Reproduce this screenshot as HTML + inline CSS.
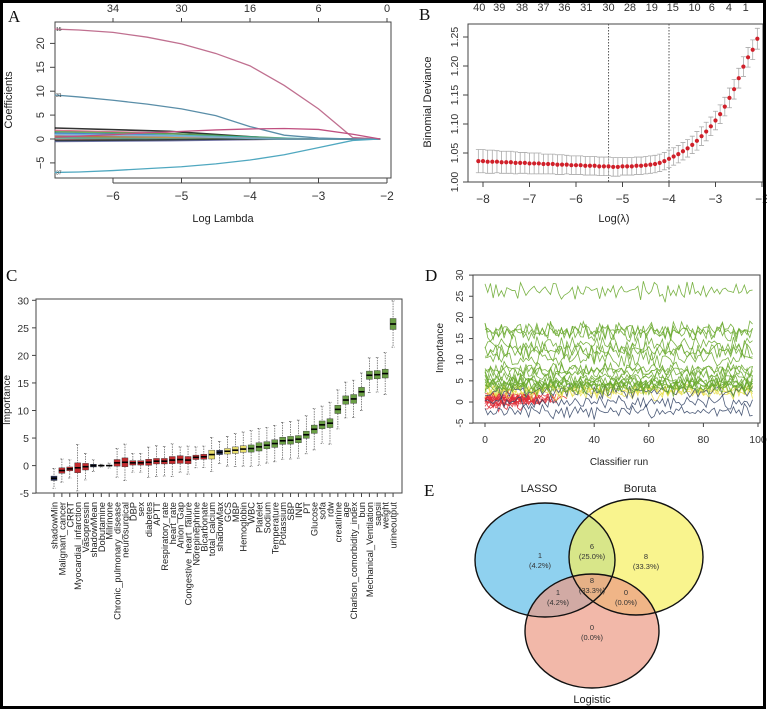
<!DOCTYPE html>
<html><head><meta charset="utf-8">
<style>
html,body{margin:0;padding:0;background:#fff;}
svg{display:block;font-family:"Liberation Sans",sans-serif;}
.pl{font-family:"Liberation Serif",serif;font-size:17px;fill:#111;}
</style></head>
<body>
<svg id="fig" width="767" height="710" viewBox="0 0 767 710" xmlns="http://www.w3.org/2000/svg">
<rect x="0" y="0" width="767" height="710" fill="#fff"/>
</svg>
<script>
// ---------- Panel A data ----------
const aLambda = [-6.85,-6.5,-6,-5.5,-5,-4.5,-4,-3.5,-3,-2.5,-2.1];
const aCoefVar15 = [23,22.8,22.3,21.3,19.9,17.9,15.3,11.2,6.3,0.3,0];
const aCoefVar31 = [9.2,8.8,8.1,7.3,6.3,4.9,2.6,0.8,0.2,0,0];
const aCoefVar37 = [-7,-6.9,-6.6,-6.2,-5.8,-5.2,-4.4,-3.3,-1.8,-0.3,0];
const aCoefPink = [0.4,0.6,0.9,1.3,1.6,1.9,2.1,2.2,2.0,1.0,0];
const aSmallStart = [2.3,1.8,1.5,1.2,1.0,0.8,0.5,0.3,-0.2,-0.4,-0.5,0.6,0.2,-0.3,0.9];
const aSmallZero = [-3.5,-3.8,-3.2,-4.0,-3.0,-3.5,-4.5,-5.0,-3.0,-4.0,-3.5,-3.2,-5.5,-4.2,-3.6];
const aTopLabels = ["34","30","16","6","0"];
const aTopPos = [-6,-5,-4,-3,-2];
// ---------- Panel B data ----------
const bLambda = [];
for (let k=0;k<61;k++) bLambda.push(+(-8.1+k*0.1).toFixed(2));
const bDeviance = [1.036,1.036,1.035,1.035,1.035,1.034,1.034,1.034,1.033,1.033,1.033,1.032,1.032,1.032,1.031,1.031,1.031,1.030,1.030,1.030,1.029,1.029,1.029,1.028,1.028,1.028,1.027,1.027,1.027,
1.026,1.026,1.027,1.027,1.027,1.028,1.028,1.029,1.030,1.031,1.033,1.036,1.040,
1.044,1.048,1.053,1.058,1.064,1.071,1.079,1.087,1.096,1.106,1.117,1.130,1.145,1.160,1.179,1.199,1.215,1.228,1.247];
const bSE = [0.020,0.020,0.020,0.020,0.019,0.019,0.019,0.019,0.019,0.018,0.018,0.018,0.018,0.018,0.017,0.017,0.017,0.017,0.017,0.016,0.016,0.016,0.016,0.016,0.016,0.016,0.016,0.016,0.016,
0.016,0.016,0.015,0.015,0.015,0.015,0.015,0.015,0.015,0.015,0.015,0.015,0.015,
0.015,0.015,0.015,0.015,0.015,0.016,0.016,0.016,0.016,0.016,0.016,0.016,0.017,0.017,0.017,0.017,0.017,0.017,0.018];
const bTopLabels = ["40","39","38","37","36","31","30","28","19","15","10","6","4","1"];
const bTopX = [-8.08,-7.65,-7.16,-6.7,-6.25,-5.78,-5.3,-4.84,-4.37,-3.92,-3.45,-3.08,-2.71,-2.35];
const bLambdaMin = -5.3, bLambda1se = -4.0;
// ---------- Panel C data ----------
const cFeatures = ["shadowMin","Malignant_cancer","CRRT","Myocardial_infarction","Vasopressin","shadowMean","Dobutamine","Milrinone","Chronic_pulmonary_disease","neurosurgical","DBP","sex","diabetes","APTT","Respiratory_rate","heart_rate","Anion_Gap","Congestive_heart_failure","Norepinephrine","Bicarbonate","total_calcium","shadowMax","GCS","MBP","Hemoglobin","WBC","Platelet","Sodium","Temperature","Potassium","SBP","INR","PT","Glucose","sofa","rdw","creatinine","age","Charlson_comorbidity_index","bun","Mechanical_Ventilation","sapsii","weight","urineoutput"];
const cMedian = [-2.3,-0.9,-0.6,-0.4,-0.2,0,0,0,0.5,0.6,0.5,0.5,0.6,0.8,0.8,1.0,1.1,1.0,1.5,1.6,2.0,2.4,2.6,2.8,3.0,3.1,3.4,3.7,4.0,4.5,4.6,4.8,5.6,6.6,7.4,7.7,10.2,11.9,12.1,13.4,16.4,16.5,16.7,25.7];
const cIQR = [0.8,1.0,0.7,1.8,1.2,0.5,0.1,0.1,1.2,1.6,0.8,0.8,1.1,1.0,1.0,1.3,1.4,1.3,0.8,0.9,1.6,0.8,1.0,1.2,1.2,1.3,1.5,1.3,1.4,1.3,1.4,1.3,1.3,1.5,1.4,1.6,1.5,1.5,1.6,1.6,1.5,1.5,1.6,2.0];
const cWhisk = [1.4,1.6,1.3,3.3,1.8,0.8,0.2,0.4,2.0,2.5,1.3,1.3,2.2,2.3,2.2,2.3,1.6,1.9,1.5,1.5,2.3,1.6,2.2,2.4,2.5,2.6,2.6,2.6,2.6,2.7,2.7,2.8,2.8,3.0,2.7,3.0,2.8,2.5,2.6,2.6,2.4,2.4,3.0,3.2];
const cStatus = ["S","R","R","R","R","S","R","R","R","R","R","R","R","R","R","R","R","R","R","R","T","S","T","T","T","C","C","C","C","C","C","C","C","C","C","C","C","C","C","C","C","C","C","C"];
// ---------- Panel D data ----------
const dRunMax = 98;
const dRejectedEnd = [12,14,18,20,22,24,26,17,19,21,15,23,25,28,30,16,20];
const dNoise = [0.6,-0.9,1.3,-0.4,0.2,-1.2,0.9,0.4,-0.7,1.5,-0.3,-1.0,0.8,0.1,-0.6,1.1,-1.4,0.5,0.3,-0.8,1.2,-0.2,0.7,-1.1,0.0,1.0,-0.5,0.4,-0.9,0.6,1.4,-0.6,0.2,-1.3,0.9,-0.1,0.5];
// ---------- Panel E data ----------
const eSets = ["LASSO","Boruta","Logistic"];
const eRegionCounts = ["1","6","8","8","1","0","0"];
const eRegionPct = ["(4.2%)","(25.0%)","(33.3%)","(33.3%)","(4.2%)","(0.0%)","(0.0%)"];

const NS="http://www.w3.org/2000/svg";
const svg=document.getElementById('fig');
function mk(tag,attrs,parent){const e=document.createElementNS(NS,tag);for(const k in attrs)e.setAttribute(k,attrs[k]);(parent||svg).appendChild(e);return e;}
function txt(s,x,y,size,anchor,rot,parent,fill){const t=mk('text',{x:x,y:y,'font-size':size,'text-anchor':anchor||'middle',fill:fill||'#222'},parent);if(rot)t.setAttribute('transform','rotate('+rot+' '+x+' '+y+')');t.textContent=s;return t;}

// ================= Panel A =================
const gA=mk('g',{});


const xA=v=>113+(v+6)*68.5, yA=v=>139-v*4.78;
let t=txt('A',8,22,17,'start',0,gA,'#111');t.setAttribute('class','pl');


let r=mk('rect',{x:55,y:22,width:336,height:156,fill:'none',stroke:'#444','stroke-width':1},gA);


const aPal=['#000','#d05070','#40a040','#3050c0','#40c0d0','#c040c0','#c0b040','#888','#a04040','#208080','#6060a0','#b07030','#50a080','#303030','#80c0e0'];
aSmallStart.forEach((s,i)=>{
  const z=aSmallZero[i];
  const pts=[[xA(-6.85),yA(s)],[xA((-6.85+z)/2),yA(s*0.7)],[xA(z),yA(0)],[xA(-2.1),yA(0)]];
  const p=mk('polyline',{points:pts.map(q=>q.join(',')).join(' '),fill:'none',stroke:aPal[i%aPal.length],'stroke-width':1.6,'stroke-opacity':0.8},gA);
  
  
});
[[aCoefVar15,'#c07090','coef-path-var15'],[aCoefVar31,'#5a8ea8','coef-path-var31'],[aCoefVar37,'#50a8c0','coef-path-var37'],[aCoefPink,'#c05080','coef-path-pink']].forEach(([arr,c,n])=>{
  const p=mk('polyline',{points:arr.map((v,i)=>xA(aLambda[i])+','+yA(v)).join(' '),fill:'none',stroke:c,'stroke-width':1.3},gA);
  
  
});
txt('15',56,yA(aCoefVar15[0])+2,5,'start',0,gA,'#333');
txt('31',56,yA(aCoefVar31[0])+2,5,'start',0,gA,'#333');
txt('37',56,yA(aCoefVar37[0])+2,5,'start',0,gA,'#333');
[-6,-5,-4,-3,-2].forEach(v=>{mk('line',{x1:xA(v),x2:xA(v),y1:178,y2:183,stroke:'#444'},gA);const l=txt('\u2212'+Math.abs(v),xA(v),200,12,'middle',0,gA,'#333');});
mk('line',{x1:xA(-6),x2:xA(-2),y1:183,y2:183,stroke:'#444'},gA);
[-5,0,5,10,15,20].forEach(v=>{mk('line',{x1:50,x2:55,y1:yA(v),y2:yA(v),stroke:'#444'},gA);const l=txt(v<0?'\u22125':String(v),44,yA(v),11,'middle',-90,gA,'#333');});
aTopLabels.forEach((s,i)=>{mk('line',{x1:xA(aTopPos[i]),x2:xA(aTopPos[i]),y1:18,y2:22,stroke:'#444'},gA);const l=txt(s,xA(aTopPos[i]),12,11,'middle',0,gA,'#333');});
t=txt('Coefficients',12,100,11,'middle',-90,gA,'#222');


t=txt('Log Lambda',223,222,11,'middle',0,gA,'#222');



// ================= Panel B =================
const gB=mk('g',{});


const xB=v=>483+(v+8)*46.5, yB=v=>182-(v-1)*580;
t=txt('B',419,20,17,'start',0,gB,'#111');t.setAttribute('class','pl');


r=mk('rect',{x:468,y:24,width:295,height:158,fill:'none',stroke:'#444'},gB);


[bLambdaMin,bLambda1se].forEach(v=>{const l=mk('line',{x1:xB(v),x2:xB(v),y1:24,y2:182,stroke:'#555','stroke-dasharray':'1.5,1.5'},gB);});
bDeviance.forEach((d,i)=>{
  const x=xB(bLambda[i]),se=bSE[i];
  const e=mk('path',{d:`M${x},${yB(d+se)}V${yB(d-se)}M${x-2.5},${yB(d+se)}h5M${x-2.5},${yB(d-se)}h5`,stroke:'#aaa','stroke-width':0.8,fill:'none'},gB);
  
  
});
bDeviance.forEach((d,i)=>{
  const c=mk('circle',{cx:xB(bLambda[i]),cy:yB(d),r:2.1,fill:'#d0202a'},gB);
  
  
});
[-8,-7,-6,-5,-4,-3,-2].forEach(v=>{mk('line',{x1:xB(v),x2:xB(v),y1:182,y2:187,stroke:'#444'},gB);const l=txt('\u2212'+Math.abs(v),xB(v),203,12,'middle',0,gB,'#333');});
[1.00,1.05,1.10,1.15,1.20,1.25].forEach(v=>{mk('line',{x1:463,x2:468,y1:yB(v),y2:yB(v),stroke:'#444'},gB);const l=txt(v.toFixed(2),458,yB(v),10.5,'middle',-90,gB,'#333');});
bTopLabels.forEach((s,i)=>{const l=txt(s,xB(bTopX[i]),11,11,'middle',0,gB,'#333');});
t=txt('Binomial Deviance',431,102,11,'middle',-90,gB,'#222');


t=txt('Log(\u03bb)',614,222,11,'middle',0,gB,'#222');



// ================= Panel C =================
const gC=mk('g',{});


const xC=i=>54+i*7.885, yC=v=>465.6-v*5.51;
const cFill={S:'#1e2a58',R:'#c42a2e',T:'#e6dc6a',C:'#6a9f45'};
t=txt('C',6,281,17,'start',0,gC,'#111');t.setAttribute('class','pl');


r=mk('rect',{x:36,y:299,width:366,height:194,fill:'none',stroke:'#444'},gC);


[-5,0,5,10,15,20,25,30].forEach(v=>{mk('line',{x1:32,x2:36,y1:yC(v),y2:yC(v),stroke:'#444'},gC);const l=txt(v<0?'-5':String(v),29,yC(v)+4,10.5,'end',0,gC,'#333');});
cMedian.forEach((m,i)=>{
  const x=xC(i),h=cIQR[i]/2,w=cWhisk[i];
  const wk=mk('path',{d:`M${x},${yC(m+h+w)}V${yC(m+h)}M${x},${yC(m-h)}V${yC(m-h-w)}M${x-1.5},${yC(m+h+w)}h3M${x-1.5},${yC(m-h-w)}h3`,stroke:'#555','stroke-width':0.7,'stroke-dasharray':'1.5,1',fill:'none'},gC);
  
  
  const b=mk('rect',{x:x-3,y:yC(m+h),width:6,height:Math.max(0.5,cIQR[i]*5.51),fill:cFill[cStatus[i]],stroke:'#333','stroke-width':0.4},gC);
  
  
  const md=mk('line',{x1:x-3,x2:x+3,y1:yC(m),y2:yC(m),stroke:'#000','stroke-width':1.6},gC);
  
  
  mk('line',{x1:x,x2:x,y1:493,y2:497,stroke:'#444'},gC);
  const l=txt(cFeatures[i],x+3.5,502,9.3,'end',-90,gC,'#222');
  
  
});
t=txt('Importance',10,400,10,'middle',-90,gC,'#222');



// ================= Panel D =================
const gD=mk('g',{});


const xD=v=>485+v*2.73, yD=v=>402-v*4.23;
t=txt('D',425,281,17,'start',0,gD,'#111');t.setAttribute('class','pl');


r=mk('rect',{x:473,y:275,width:287,height:148,fill:'none',stroke:'#444'},gD);


const dCol={S:'#3a4a6a',R:'#e0303a',T:'#e8e050',C:'#6aaa30'};
let rj=0;
const order=cMedian.map((m,i)=>i).sort((a,b)=>{const o={R:0,T:1,S:2,C:3};return o[cStatus[a]]-o[cStatus[b]];});
const nL=dNoise.length;
order.forEach(i=>{
  const st=cStatus[i];
  const end=st==='R'?dRejectedEnd[(rj++)%dRejectedEnd.length]:dRunMax;
  const amp=st==='R'?0.9:(cMedian[i]>10?1.5:1.1);
  const base=cMedian[i]>20?cMedian[i]+0.5:cMedian[i];
  const pts=[];
  for(let j=0;j<=end;j++){
    const n=0.75*dNoise[(j*11+i*5)%nL]+0.5*dNoise[(j*4+i*13+Math.floor(j/9))%nL];
    pts.push(xD(j)+','+yD(base+amp*n));
  }
  const p=mk('polyline',{points:pts.join(' '),fill:'none',stroke:dCol[st],'stroke-width':0.8,'stroke-opacity':0.9},gD);
  
  
});
[0,20,40,60,80,100].forEach(v=>{mk('line',{x1:xD(v),x2:xD(v),y1:423,y2:427,stroke:'#444'},gD);const l=txt(String(v),xD(v),443,10.5,'middle',0,gD,'#333');});
[-5,0,5,10,15,20,25,30].forEach(v=>{mk('line',{x1:469,x2:473,y1:yD(v),y2:yD(v),stroke:'#444'},gD);const l=txt(v<0?'-5':String(v),463,yD(v),10,'middle',-90,gD,'#333');});
t=txt('Importance',443,348,10,'middle',-90,gD,'#222');


t=txt('Classifier run',619,465,10,'middle',0,gD,'#222');



// ================= Panel E =================
const gE=mk('g',{});


t=txt('E',424,496,17,'start',0,gE,'#111');t.setAttribute('class','pl');


const eCirc=[[545,560,70,57,'#5fbde8'],[636,557,67,58,'#f6ef5e'],[592,631,67,57,'#ec9a84']];
eCirc.forEach((c,i)=>{
  const e=mk('ellipse',{cx:c[0],cy:c[1],rx:c[2],ry:c[3],fill:c[4],'fill-opacity':0.7},gE);
  
  
});
eCirc.forEach(c=>{mk('ellipse',{cx:c[0],cy:c[1],rx:c[2],ry:c[3],fill:'none',stroke:'#111','stroke-width':1.4},gE);});
const eLabelPos=[[539,492],[640,492],[592,703]];
eSets.forEach((s,i)=>{const l=txt(s,eLabelPos[i][0],eLabelPos[i][1],11,'middle',0,gE,'#222');});
const eRegPos=[[540,558],[592,549],[646,559],[592,583],[558,595],[626,595],[592,630]];
eRegionCounts.forEach((s,i)=>{
  const a=txt(s,eRegPos[i][0],eRegPos[i][1],7.5,'middle',0,gE,'#333');
  
  
  const b=txt(eRegionPct[i],eRegPos[i][0],eRegPos[i][1]+10,7.5,'middle',0,gE,'#333');
  
  
});

const fr=mk('rect',{x:1.5,y:1.5,width:763,height:706,fill:'none',stroke:'#000','stroke-width':3});


</script>
</body></html>
